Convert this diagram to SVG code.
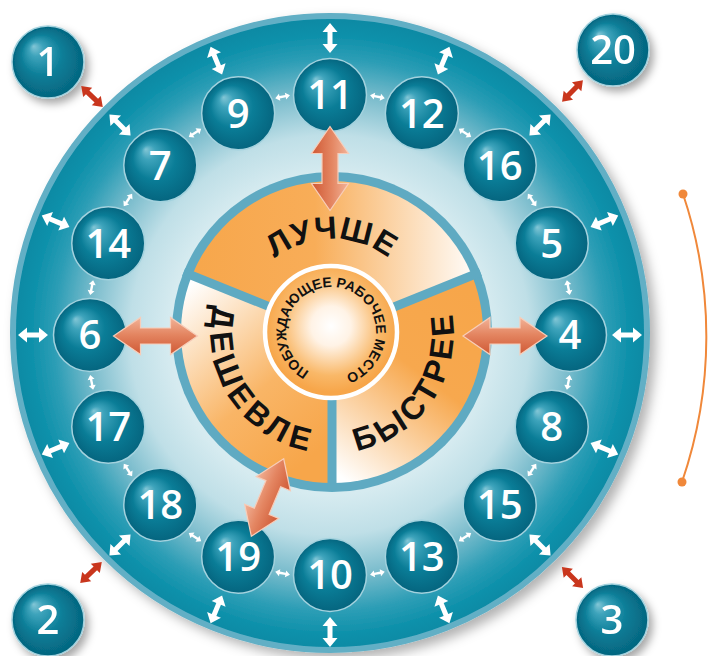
<svg xmlns="http://www.w3.org/2000/svg" xmlns:xlink="http://www.w3.org/1999/xlink" width="709" height="656" viewBox="0 0 709 656">
<style>
.ball{fill:url(#ball);stroke:#a3d2de;stroke-width:1.5}
.num{font-family:"Open Sans","DejaVu Sans",sans-serif;font-weight:600;font-size:40px;fill:#fff;text-anchor:middle}
.big{font-family:"Liberation Sans",Arial,sans-serif;font-weight:700;font-size:32px;fill:#111}
.small{font-family:"Liberation Sans",Arial,sans-serif;font-weight:700;font-size:14px;fill:#111}
.wa{fill:#fff}
.ra{fill:#c9361d}
.sa{fill:url(#salmon);stroke:#f7cdb9;stroke-width:1.2}
</style>
<defs>
<radialGradient id="bigGrad" gradientUnits="userSpaceOnUse" cx="330" cy="335" r="315">
<stop offset="0" stop-color="#e6f2f5"/>
<stop offset="0.508" stop-color="#d6ebf0"/>
<stop offset="0.635" stop-color="#bfdfe7"/>
<stop offset="0.762" stop-color="#7cbdcd"/>
<stop offset="0.873" stop-color="#2e9eb6"/>
<stop offset="0.952" stop-color="#0d90aa"/>
<stop offset="1" stop-color="#0a8aa4"/>
</radialGradient>
<radialGradient id="ball" cx="0.5" cy="0.5" r="0.5" fx="0.3" fy="0.28">
<stop offset="0" stop-color="#82c6d6"/>
<stop offset="0.2" stop-color="#3da3bb"/>
<stop offset="0.58" stop-color="#0a7d97"/>
<stop offset="1" stop-color="#05657f"/>
</radialGradient>
<linearGradient id="gTop" gradientUnits="userSpaceOnUse" x1="180" y1="0" x2="480" y2="0">
<stop offset="0" stop-color="#f7a64a"/>
<stop offset="0.45" stop-color="#f8ad58"/>
<stop offset="1" stop-color="#ffffff"/>
</linearGradient>
<linearGradient id="gLeft" gradientUnits="userSpaceOnUse" x1="190" y1="285" x2="325" y2="445">
<stop offset="0" stop-color="#ffffff"/>
<stop offset="0.6" stop-color="#f9b566"/>
<stop offset="1" stop-color="#f7a64a"/>
</linearGradient>
<linearGradient id="gRight" gradientUnits="userSpaceOnUse" x1="480" y1="300" x2="345" y2="480">
<stop offset="0" stop-color="#f7a64a"/>
<stop offset="0.42" stop-color="#f7a84e"/>
<stop offset="1" stop-color="#ffffff"/>
</linearGradient>
<radialGradient id="gCenter" gradientUnits="userSpaceOnUse" cx="331" cy="326" r="66">
<stop offset="0" stop-color="#ffffff"/>
<stop offset="0.3" stop-color="#fff3e6"/>
<stop offset="0.75" stop-color="#f9b868"/>
<stop offset="1" stop-color="#f7a64a"/>
</radialGradient>
<linearGradient id="salmon" x1="0" y1="0" x2="0" y2="1">
<stop offset="0" stop-color="#f2b398"/>
<stop offset="0.45" stop-color="#e48662"/>
<stop offset="1" stop-color="#cf5834"/>
</linearGradient>
<filter id="shBig" x="-10%" y="-10%" width="125%" height="125%">
<feDropShadow dx="6" dy="6" stdDeviation="6" flood-color="#000" flood-opacity="0.3"/>
</filter>
<filter id="shBall" x="-30%" y="-30%" width="170%" height="170%">
<feDropShadow dx="4" dy="5" stdDeviation="4" flood-color="#000" flood-opacity="0.35"/>
</filter>
<path id="whiteArrow" d="M-15,0 L-6,-7.5 L-6,-2.5 L6,-2.5 L6,-7.5 L15,0 L6,7.5 L6,2.5 L-6,2.5 L-6,7.5 Z"/>
<path id="smallArrow" d="M-7.5,0 L-3,-3.5 L-3,-1.2 L3,-1.2 L3,-3.5 L7.5,0 L3,3.5 L3,1.2 L-3,1.2 L-3,3.5 Z"/>
<path id="redArrow" d="M-15,0 L-6,-6.5 L-6,-2.5 L6,-2.5 L6,-6.5 L15,0 L6,6.5 L6,2.5 L-6,2.5 L-6,6.5 Z"/>
<path id="salmonArrow" d="M-42,0 L-15,-18.5 L-15,-8 L15,-8 L15,-18.5 L42,0 L15,18.5 L15,8 L-15,8 L-15,18.5 Z"/>
<path id="pTop" d="M332,425 A93,93 0 0 1 332,239 A93,93 0 0 1 332,425"/>
<path id="pLeft" d="M433.14,263.78 A122,122 0 0 0 230.86,400.22 A122,122 0 0 0 433.14,263.78"/>
<path id="pRight" d="M230.86,263.78 A122,122 0 0 0 433.14,400.22 A122,122 0 0 0 230.86,263.78"/>
<path id="pCenter" d="M327.08,376.83 A45,45 0 0 1 334.92,287.17 A45,45 0 0 1 327.08,376.83"/>
</defs>

<rect width="709" height="656" fill="#ffffff"/>

<g id="outer-wheel">
<circle cx="330" cy="333" r="317" fill="url(#bigGrad)" stroke="#62afc5" stroke-width="6" filter="url(#shBig)"/>
</g>

<g id="hub">
<circle cx="332" cy="332" r="160" fill="#5faac2"/>
<g id="sector-better">
<path d="M332,332 L192.0,275.4 A151,151 0 0 1 472.0,275.4 Z" fill="url(#gTop)"/>
<text class="big"><textPath href="#pTop" startOffset="50%" text-anchor="middle" letter-spacing="1">ЛУЧШЕ</textPath></text>
</g>
<g id="sector-faster">
<path d="M332,332 L472.0,275.4 A151,151 0 0 1 332,483 Z" fill="url(#gRight)"/>
<text class="big"><textPath href="#pRight" startOffset="50%" text-anchor="middle" letter-spacing="4">БЫСТРЕЕ</textPath></text>
</g>
<g id="sector-cheaper">
<path d="M332,332 L332,483 A151,151 0 0 1 192.0,275.4 Z" fill="url(#gLeft)"/>
<text class="big"><textPath href="#pLeft" startOffset="50%" text-anchor="middle" letter-spacing="5">ДЕШЕВЛЕ</textPath></text>
</g>
<g stroke="#5faac2" stroke-width="9">
<line x1="332" y1="332" x2="480.35" y2="272.06"/>
<line x1="332" y1="332" x2="183.65" y2="272.06"/>
<line x1="332" y1="332" x2="332" y2="490"/>
</g>
<g id="center-workplace">
<circle cx="331" cy="332" r="66" fill="url(#gCenter)" stroke="#ffffff" stroke-width="4.5"/>
<text class="small"><textPath href="#pCenter" startOffset="50%" text-anchor="middle">ПОБУЖДАЮЩЕЕ РАБОЧЕЕ МЕСТО</textPath></text>
</g>
</g>

<g id="node-1" filter="url(#shBall)"><circle class="ball" cx="48" cy="62" r="36"/><text class="num" x="48" y="76.3">1</text></g>
<g id="node-20" filter="url(#shBall)"><circle class="ball" cx="613" cy="50" r="36"/><text class="num" x="613" y="64.3">20</text></g>
<g id="node-2" filter="url(#shBall)"><circle class="ball" cx="48" cy="620" r="36"/><text class="num" x="48" y="634.3">2</text></g>
<g id="node-3" filter="url(#shBall)"><circle class="ball" cx="612" cy="620" r="36"/><text class="num" x="612" y="634.3">3</text></g>

<g id="node-11"><circle class="ball" cx="330" cy="95" r="36.5"/><text class="num" x="330" y="109.3">11</text></g>
<g id="node-12"><circle class="ball" cx="421.84" cy="113.27" r="36.5"/><text class="num" x="421.84" y="127.6">12</text></g>
<g id="node-16"><circle class="ball" cx="499.71" cy="165.29" r="36.5"/><text class="num" x="499.71" y="179.6">16</text></g>
<g id="node-5"><circle class="ball" cx="551.73" cy="243.16" r="36.5"/><text class="num" x="551.73" y="257.5">5</text></g>
<g id="node-4"><circle class="ball" cx="570" cy="335" r="36.5"/><text class="num" x="570" y="349.3">4</text></g>
<g id="node-8"><circle class="ball" cx="551.73" cy="426.84" r="36.5"/><text class="num" x="551.73" y="441.1">8</text></g>
<g id="node-15"><circle class="ball" cx="499.71" cy="504.71" r="36.5"/><text class="num" x="499.71" y="519">15</text></g>
<g id="node-13"><circle class="ball" cx="421.84" cy="556.73" r="36.5"/><text class="num" x="421.84" y="571">13</text></g>
<g id="node-10"><circle class="ball" cx="330" cy="575" r="36.5"/><text class="num" x="330" y="589.3">10</text></g>
<g id="node-19"><circle class="ball" cx="238.16" cy="556.73" r="36.5"/><text class="num" x="238.16" y="571">19</text></g>
<g id="node-18"><circle class="ball" cx="160.29" cy="504.71" r="36.5"/><text class="num" x="160.29" y="519">18</text></g>
<g id="node-17"><circle class="ball" cx="108.27" cy="426.84" r="36.5"/><text class="num" x="108.27" y="441.1">17</text></g>
<g id="node-6"><circle class="ball" cx="90" cy="335" r="36.5"/><text class="num" x="90" y="349.3">6</text></g>
<g id="node-14"><circle class="ball" cx="108.27" cy="243.16" r="36.5"/><text class="num" x="108.27" y="257.5">14</text></g>
<g id="node-7"><circle class="ball" cx="160.29" cy="165.29" r="36.5"/><text class="num" x="160.29" y="179.6">7</text></g>
<g id="node-9"><circle class="ball" cx="238.16" cy="113.27" r="36.5"/><text class="num" x="238.16" y="127.6">9</text></g>

<g id="connectors">
<g class="wa">
<use href="#whiteArrow" transform="translate(330,38) rotate(-90)"/>
<use href="#whiteArrow" transform="translate(443.66,60.61) rotate(-67.5)"/>
<use href="#whiteArrow" transform="translate(540.01,124.99) rotate(-45)"/>
<use href="#whiteArrow" transform="translate(604.39,221.34) rotate(-22.5)"/>
<use href="#whiteArrow" transform="translate(627,335)"/>
<use href="#whiteArrow" transform="translate(604.39,448.66) rotate(22.5)"/>
<use href="#whiteArrow" transform="translate(540.01,545.01) rotate(45)"/>
<use href="#whiteArrow" transform="translate(443.66,609.39) rotate(67.5)"/>
<use href="#whiteArrow" transform="translate(330,632) rotate(90)"/>
<use href="#whiteArrow" transform="translate(216.34,609.39) rotate(112.5)"/>
<use href="#whiteArrow" transform="translate(119.99,545.01) rotate(135)"/>
<use href="#whiteArrow" transform="translate(55.61,448.66) rotate(157.5)"/>
<use href="#whiteArrow" transform="translate(33,335)"/>
<use href="#whiteArrow" transform="translate(55.61,221.34) rotate(202.5)"/>
<use href="#whiteArrow" transform="translate(119.99,124.99) rotate(225)"/>
<use href="#whiteArrow" transform="translate(216.34,60.61) rotate(247.5)"/>
</g>
<g class="wa">
<use href="#smallArrow" transform="translate(377.41,96.67) rotate(11.25)"/>
<use href="#smallArrow" transform="translate(465,132.95) rotate(33.75)"/>
<use href="#smallArrow" transform="translate(532.05,200) rotate(56.25)"/>
<use href="#smallArrow" transform="translate(568.33,287.59) rotate(78.75)"/>
<use href="#smallArrow" transform="translate(568.33,382.41) rotate(101.25)"/>
<use href="#smallArrow" transform="translate(532.05,470) rotate(123.75)"/>
<use href="#smallArrow" transform="translate(465,537.05) rotate(146.25)"/>
<use href="#smallArrow" transform="translate(377.41,573.33) rotate(168.75)"/>
<use href="#smallArrow" transform="translate(282.59,573.33) rotate(191.25)"/>
<use href="#smallArrow" transform="translate(195,537.05) rotate(213.75)"/>
<use href="#smallArrow" transform="translate(127.95,470) rotate(236.25)"/>
<use href="#smallArrow" transform="translate(91.67,382.41) rotate(258.75)"/>
<use href="#smallArrow" transform="translate(91.67,287.59) rotate(281.25)"/>
<use href="#smallArrow" transform="translate(127.95,200) rotate(303.75)"/>
<use href="#smallArrow" transform="translate(195,132.95) rotate(326.25)"/>
<use href="#smallArrow" transform="translate(282.59,96.67) rotate(348.75)"/>
</g>
<g class="ra">
<use href="#redArrow" transform="translate(92,96.5) rotate(44)"/>
<use href="#redArrow" transform="translate(572.5,91) rotate(-46)"/>
<use href="#redArrow" transform="translate(91,572.5) rotate(-44)"/>
<use href="#redArrow" transform="translate(572.5,577.5) rotate(45)"/>
</g>
<g class="sa">
<use href="#salmonArrow" transform="translate(330,168.5) rotate(90)"/>
<use href="#salmonArrow" transform="translate(155.5,336)"/>
<use href="#salmonArrow" transform="translate(505,336)"/>
<use href="#salmonArrow" transform="translate(267.5,497.5) rotate(-67.3)"/>
</g>
</g>

<g id="bracket" fill="#f0883a">
<path d="M683,194 A447,447 0 0 1 682,482" fill="none" stroke="#f0883a" stroke-width="2"/>
<circle cx="683" cy="194" r="4.5"/>
<circle cx="682" cy="482" r="4.5"/>
</g>
</svg>
